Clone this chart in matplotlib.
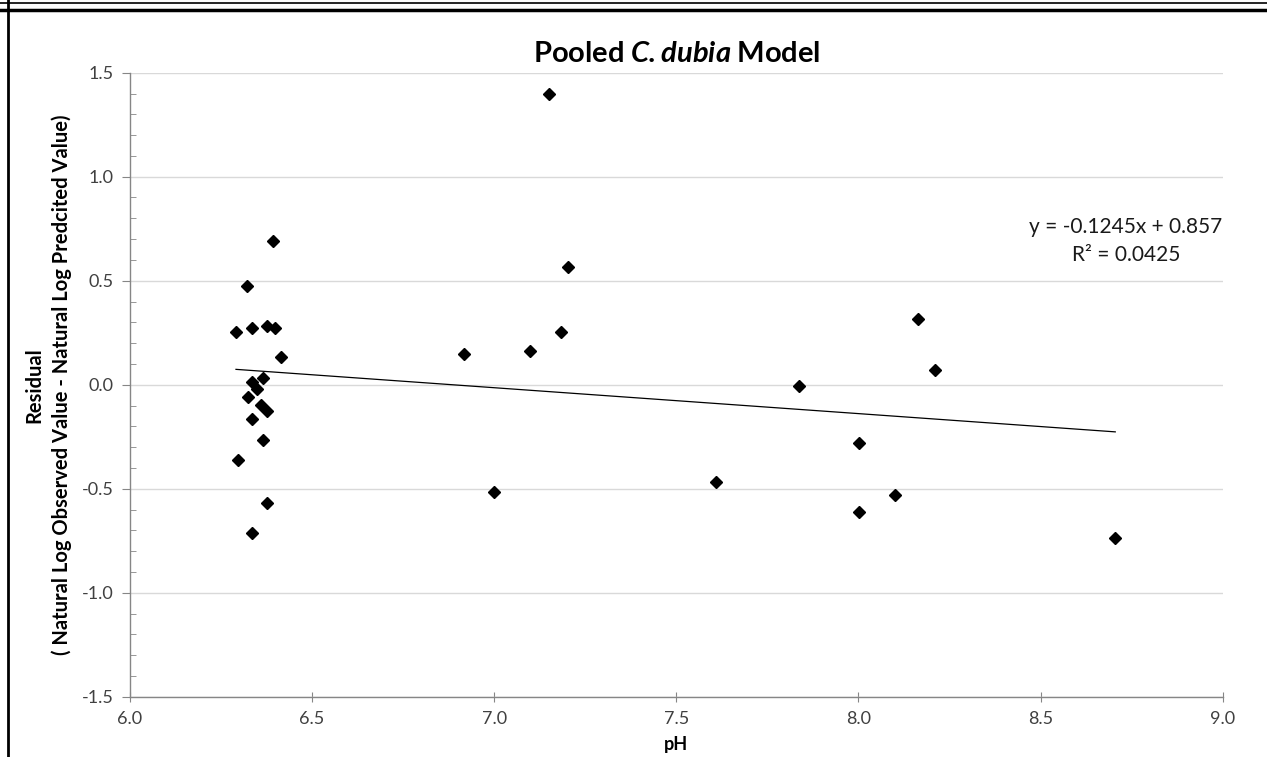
import numpy as np
import matplotlib
matplotlib.use("Agg")
import matplotlib.pyplot as plt
from matplotlib.lines import Line2D

plt.rcParams['font.family'] = ['Lato', 'DejaVu Sans']
plt.rcParams['mathtext.fontset'] = 'custom'
plt.rcParams['mathtext.rm'] = 'Lato'
plt.rcParams['mathtext.bf'] = 'Lato:bold'
plt.rcParams['mathtext.bfit'] = 'Lato:italic:bold'

# residuals
ph = [6.392, 6.320, 6.291, 6.334, 6.375, 6.398, 6.415, 6.334, 6.366, 6.348,
      6.325, 6.359, 6.377, 6.336, 6.366, 6.297, 6.377, 6.334,
      7.149, 7.202, 6.917, 7.098, 7.183, 6.998,
      8.210, 7.838, 8.001, 7.608, 8.099, 8.001, 8.164, 8.705]
resid = [0.689, 0.476, 0.251, 0.271, 0.282, 0.273, 0.135, 0.014, 0.032, -0.021,
         -0.061, -0.098, -0.125, -0.167, -0.264, -0.362, -0.571, -0.715,
         1.400, 0.564, 0.150, 0.163, 0.251, -0.514,
         0.072, -0.008, -0.282, -0.466, -0.530, -0.614, 0.317, -0.735]

slope = -0.1245
intercept = 0.857
r2 = 0.0425

xticks = [6.0, 6.5, 7.0, 7.5, 8.0, 8.5, 9.0]
yticks = [-1.5, -1.0, -0.5, 0.0, 0.5, 1.0, 1.5]

W, H = 1267, 757
fig = plt.figure(figsize=(W / 100, H / 100), dpi=100)
ax = fig.add_axes([130 / W, 1 - 696.7 / H, (1222.7 - 130) / W, (696.7 - 72.7) / H])

ax.set_xlim(6.0, 9.0)
ax.set_ylim(-1.5, 1.5)
ax.set_xticks(xticks)
ax.set_yticks(yticks)
ax.set_xticklabels(['%.1f' % t for t in xticks])
ax.set_yticklabels(['%.1f' % t for t in yticks])
ax.set_yticks(np.arange(-1.5, 1.51, 0.1), minor=True)

ax.grid(axis='y', which='major', color='#d9d9d9', linewidth=1.0)
ax.set_axisbelow(True)
for s in ['top', 'right']:
    ax.spines[s].set_visible(False)
for s in ['left', 'bottom']:
    ax.spines[s].set_color('#868686')
    ax.spines[s].set_linewidth(1.0)

ax.tick_params(axis='y', which='major', direction='out', length=6, color='#868686',
               labelsize=13, labelcolor='#404040', pad=6)
ax.tick_params(axis='y', which='minor', direction='in', length=4, color='#868686')
ax.tick_params(axis='x', which='major', direction='inout', length=7, color='#868686',
               labelsize=13, labelcolor='#404040', pad=7)

# trendline across the data range
xl = np.array([min(ph), max(ph)])
ax.plot(xl, slope * xl + intercept, color='black', linewidth=0.9)
ax.plot(ph, resid, linestyle='none', marker='D', markersize=6.5, color='black')

ax.text(1126, 757 - 227, 'y = %.4fx + %.3f' % (slope, intercept), transform=None,
        ha='center', va='center', fontsize=15, color='#1a1a1a')
ax.text(1126, 757 - 255, 'R² = %.4f' % r2, transform=None,
        ha='center', va='center', fontsize=15, color='#1a1a1a')

ax.set_title(r'$\mathbf{Pooled}\>\mathbfit{C.}\mathbfit{dubia}\>\mathbf{Model}$',
             fontsize=21, pad=8)

ax.set_xlabel('pH', fontsize=13, fontweight='bold', labelpad=6)
ax.set_ylabel('Residual\n( Natural Log Observed Value - Natural Log Predcited Value)',
              fontsize=14.5, fontweight='bold', linespacing=1.45)
ax.yaxis.set_label_coords((72 - 130) / (1222.7 - 130), 0.5)

# table cell border around the chart
fig.add_artist(Line2D([0, 1], [1 - 3 / H, 1 - 3 / H], color='black', linewidth=1.2))
fig.add_artist(Line2D([0, 1], [1 - 10 / H, 1 - 10 / H], color='black', linewidth=2.5))
fig.add_artist(Line2D([8 / W, 8 / W], [0, 1], color='black', linewidth=2.0))

fig.savefig('out.png', dpi=100)
